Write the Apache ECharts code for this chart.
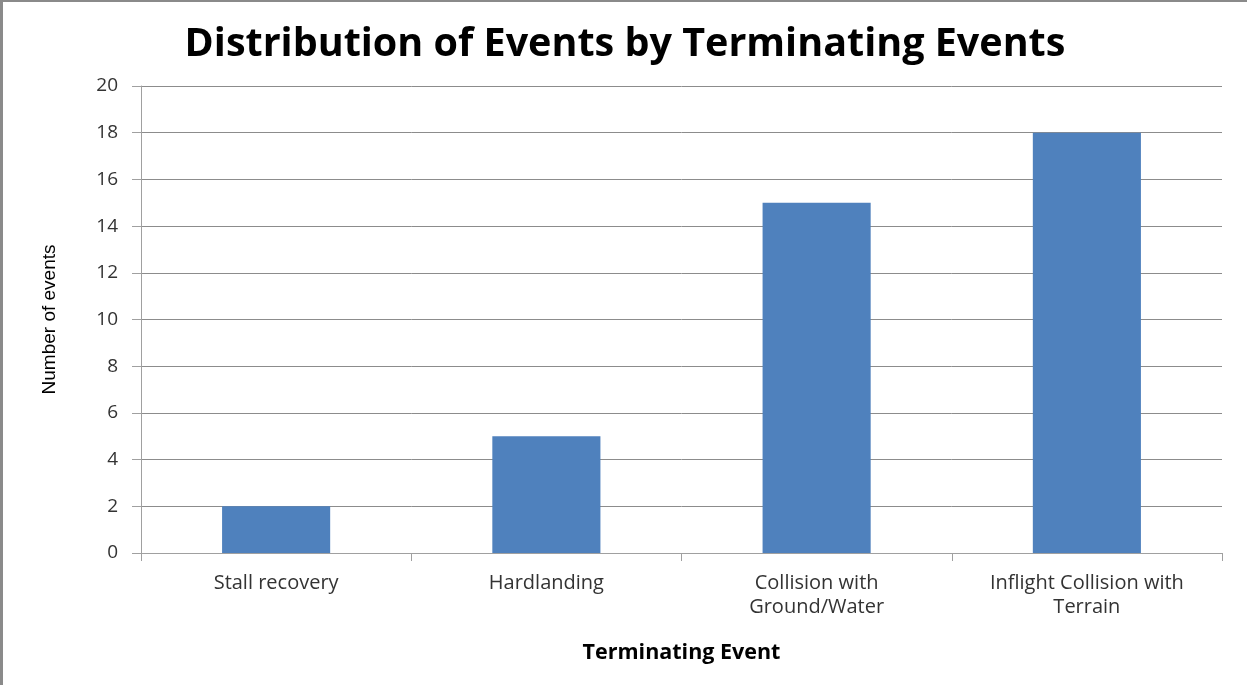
<!DOCTYPE html>
<html>
<head>
<meta charset="utf-8">
<script src="https://cdn.jsdelivr.net/npm/echarts@6/dist/echarts.min.js"></script>
<style>
  html, body { margin: 0; padding: 0; background: #fff; }
  #chart {
    position: absolute; left: 0; top: 0; width: 1247px; height: 685px;
    box-sizing: border-box; border-left: 3px solid #8a8a8a; border-top: 2px solid #8a8a8a;
  }
</style>
</head>
<body>
<div id="chart"></div>
<script>
const categories = ['Stall recovery', 'Hardlanding', 'Collision with\nGround/Water', 'Inflight Collision with\nTerrain']
const values = [2, 5, 15, 18]

const chart = echarts.init(document.getElementById('chart'))

chart.setOption({
  animation: false,
  title: {
    text: 'Distribution of Events by Terminating Events',
    left: 'center',
    top: 18,
    textStyle: { fontFamily: 'Open Sans', fontWeight: 'bold', fontSize: 39.5, color: '#000' },
  },
  grid: { left: 138, right: 25, top: 84, bottom: 132 },
  xAxis: {
    type: 'category',
    data: categories,
    name: 'Terminating Event',
    nameLocation: 'middle',
    nameGap: 89,
    nameTextStyle: { fontFamily: 'Open Sans', fontWeight: 'bold', fontSize: 21.5, color: '#000' },
    axisLine: { lineStyle: { color: '#a0a0a0', width: 1 } },
    axisTick: { show: true, length: 8, lineStyle: { color: '#a0a0a0' } },
    axisLabel: { margin: 18, fontFamily: 'Open Sans', fontSize: 20, color: '#333', lineHeight: 24 },
  },
  yAxis: {
    type: 'value',
    min: 0,
    max: 20,
    interval: 2,
    name: 'Number of events',
    nameLocation: 'middle',
    nameGap: 82,
    nameTextStyle: { fontFamily: 'Liberation Sans Narrow, Liberation Sans', fontSize: 19, color: '#000' },
    axisLine: { show: true, lineStyle: { color: '#a0a0a0' } },
    axisTick: { show: true, length: 9, lineStyle: { color: '#a0a0a0' } },
    axisLabel: { margin: 23, fontFamily: 'Open Sans', fontSize: 19, color: '#333' },
    splitLine: { lineStyle: { color: '#8c8c8c', width: 1 } },
  },
  series: [{
    type: 'bar',
    data: values,
    barWidth: '40%',
    itemStyle: { color: '#4F81BD' },
  }],
})
</script>
</body>
</html>
